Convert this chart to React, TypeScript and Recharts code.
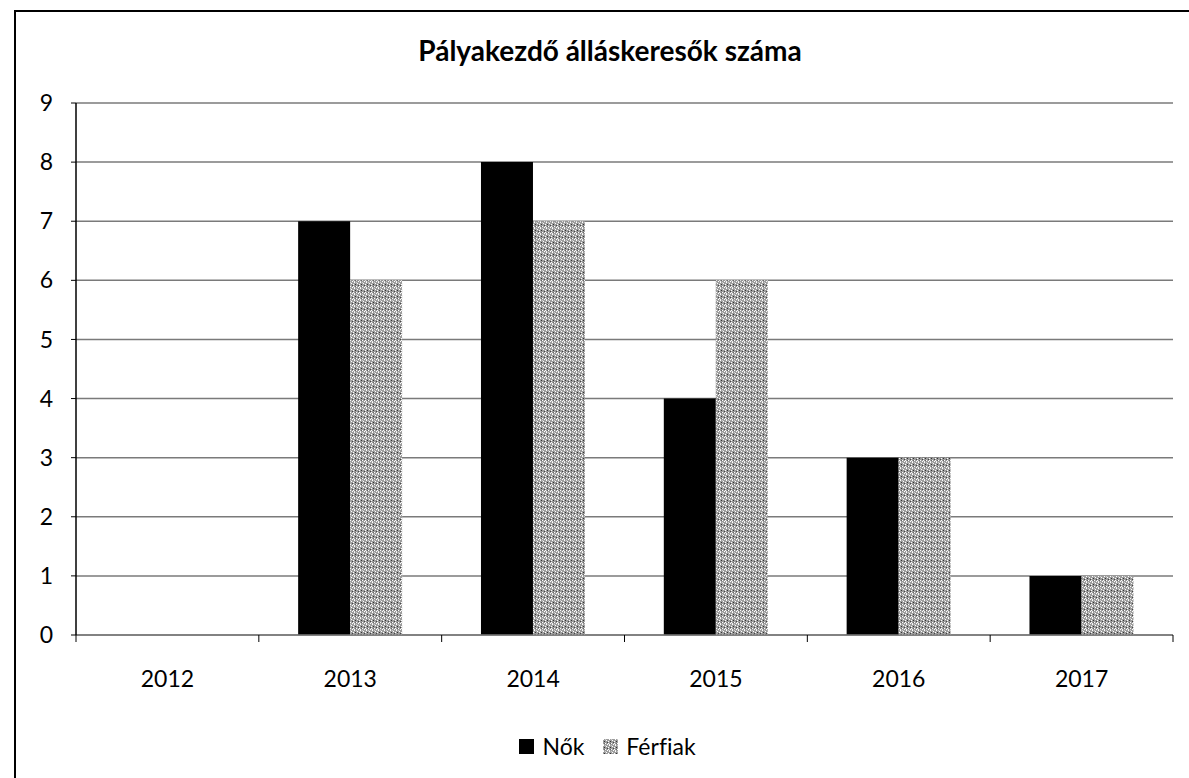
import { BarChart, Bar, XAxis, YAxis, CartesianGrid, Legend } from 'recharts';

const years = ['2012', '2013', '2014', '2015', '2016', '2017'];
const nok = [0, 7, 8, 4, 3, 1];
const ferfiak = [0, 6, 7, 6, 3, 1];
const yTicks = [0, 1, 2, 3, 4, 5, 6, 7, 8, 9];

const data = years.map((year, i) => ({ year, nok: nok[i], ferfiak: ferfiak[i] }));

const W = 1189;
const H = 778;
const PLOT_LEFT = 76;
const PLOT_RIGHT = 1173;
const HALF_BAND = (PLOT_RIGHT - PLOT_LEFT) / years.length / 2;
const FONT = 'Lato, "Open Sans", sans-serif';

// category ticks sit on the band boundaries, like in the Excel original
function YearTick(props: any) {
  const { x, y, payload, index } = props;
  const isLast = index === years.length - 1;
  return (
    <g>
      <line x1={x - HALF_BAND} y1={y - 8} x2={x - HALF_BAND} y2={y - 1} stroke="#000" strokeWidth={1} />
      {isLast && <line x1={x + HALF_BAND} y1={y - 8} x2={x + HALF_BAND} y2={y - 1} stroke="#000" strokeWidth={1} />}
      <text x={x} y={y + 44} textAnchor="middle" fontSize={23} fontFamily={FONT} fill="#000">
        {payload.value}
      </text>
    </g>
  );
}

function Swatch({ fill }: { fill: string }) {
  return (
    <svg width={15} height={15} style={{ marginRight: 8 }}>
      <rect x={0} y={0} width={15} height={15} fill={fill} />
    </svg>
  );
}

function ChartLegend() {
  return (
    <div
      style={{
        display: 'flex',
        justifyContent: 'center',
        alignItems: 'center',
        fontFamily: FONT,
        fontSize: 23,
        height: 28,
        paddingLeft: 42,
        fontVariantLigatures: 'none',
      }}
    >
      <span style={{ display: 'flex', alignItems: 'center', marginRight: 19 }}>
        <Swatch fill="#000" />
        Nők
      </span>
      <span style={{ display: 'flex', alignItems: 'center' }}>
        <Swatch fill="url(#speckle)" />
        Férfiak
      </span>
    </div>
  );
}

function Speckle() {
  return (
    <svg width={0} height={0} style={{ position: 'absolute' }}>
      <defs>
        <pattern id="speckle" width={6} height={6} patternUnits="userSpaceOnUse">
          <rect width={6} height={6} fill="#9d9d9d" />
          <rect x={0} y={0} width={1} height={1} fill="#fff" />
          <rect x={3} y={1} width={1} height={1} fill="#fff" />
          <rect x={1} y={2} width={1} height={1} fill="#333" />
          <rect x={5} y={2} width={1} height={1} fill="#fff" />
          <rect x={2} y={4} width={1} height={1} fill="#fff" />
          <rect x={4} y={3} width={1} height={1} fill="#444" />
          <rect x={0} y={5} width={1} height={1} fill="#eee" />
          <rect x={4} y={5} width={1} height={1} fill="#fff" />
          <rect x={2} y={0} width={1} height={1} fill="#ccc" />
          <rect x={5} y={4} width={1} height={1} fill="#fff" />
          <rect x={1} y={4} width={1} height={1} fill="#666" />
        </pattern>
      </defs>
    </svg>
  );
}

export default function App() {
  return (
    <div style={{ position: 'absolute', left: 0, top: 0, width: W, height: H, overflow: 'hidden', background: '#fff' }}>
      <Speckle />
      <div
        style={{
          position: 'absolute',
          left: 14,
          top: 10,
          width: W,
          height: H,
          borderLeft: '2px solid #000',
          borderTop: '2px solid #000',
        }}
      />
      <div
        style={{
          position: 'absolute',
          left: 0,
          top: 33,
          width: 1220,
          textAlign: 'center',
          fontFamily: FONT,
          fontWeight: 700,
          fontSize: 28,
          color: '#000',
        }}
      >
        Pályakezdő álláskeresők száma
      </div>
      <div style={{ position: 'absolute', left: 0, top: 0 }}>
        <BarChart
          width={W}
          height={H}
          data={data}
          margin={{ top: 103, right: W - PLOT_RIGHT, bottom: 18, left: 0 }}
          barCategoryGap="21.5%"
          barGap={0}
        >
          <CartesianGrid vertical={false} stroke="#7a7a7a" strokeWidth={1.5} />
          <XAxis
            dataKey="year"
            height={97}
            axisLine={{ stroke: '#7a7a7a', strokeWidth: 1.5 }}
            tickLine={false}
            tick={<YearTick />}
            interval={0}
          />
          <YAxis
            width={PLOT_LEFT}
            domain={[0, 9]}
            ticks={yTicks}
            interval={0}
            axisLine={{ stroke: '#000', strokeWidth: 1.5 }}
            tickLine={{ stroke: '#000' }}
            tickSize={5}
            tickMargin={18}
            tick={{ fontSize: 23, fontFamily: FONT, fill: '#000' }}
          />
          <Legend verticalAlign="bottom" content={<ChartLegend />} wrapperStyle={{ height: 28 }} />
          <Bar dataKey="nok" name="Nők" fill="#000" isAnimationActive={false} />
          <Bar dataKey="ferfiak" name="Férfiak" fill="url(#speckle)" isAnimationActive={false} />
        </BarChart>
      </div>
    </div>
  );
}
